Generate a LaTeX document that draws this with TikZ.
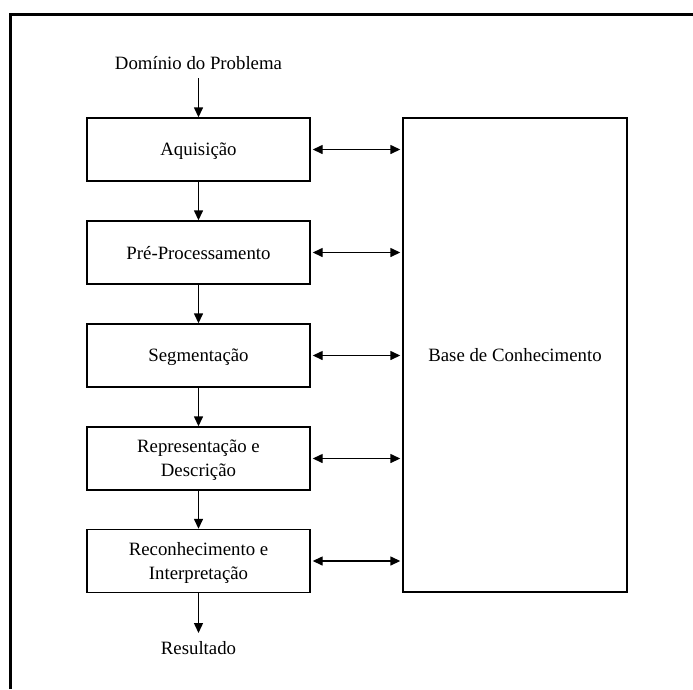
\documentclass[tikz,border=0pt]{standalone}
\usepackage{fontspec}
\setmainfont{Liberation Serif}
\usetikzlibrary{arrows.meta}
\begin{document}
\begin{tikzpicture}[x=1pt,y=-1pt,
  stage/.style={draw, line width=1.4pt, minimum width=223pt, minimum height=63pt,
    align=center, font=\fontsize{18.8}{24}\selectfont, inner sep=0pt, text depth=0pt},
  lbl/.style={font=\fontsize{18.8}{24}\selectfont, inner sep=0pt},
  flow/.style={line width=1.4pt, -{Triangle[length=10pt,width=9pt]}},
  link/.style={line width=1.4pt, {Triangle[length=10pt,width=9pt]}-{Triangle[length=10pt,width=9pt]}}]
  \useasboundingbox (0,0) rectangle (693,689);
  % outer frame (top and left edges)
  \draw[line width=2.3pt] (10.5,689) -- (10.5,14.5) -- (693,14.5);

  \node[lbl] (dom) at (198.5,63) {Domínio do Problema};
  \node[stage] (s1) at (198.5,149.5) {Aquisição};
  \node[stage] (s2) at (198.5,252.5) {Pré-Processamento};
  \node[stage] (s3) at (198.5,355.5) {Segmentação};
  \node[stage] (s4) at (198.5,458.5) {Representação e\\Descrição};
  \node[stage] (s5) at (198.5,561) {Reconhecimento e\\Interpretação};
  \node[lbl] (res) at (198.5,648) {Resultado};
  \node[draw, line width=1.4pt, minimum width=224pt, minimum height=474pt,
    font=\fontsize{18.8}{24}\selectfont, inner sep=0pt] (kb) at (515,355) {Base de Conhecimento};

  \draw[flow] (dom.south |- 0,78) -- (s1.north);
  \draw[flow] (s1) -- (s2);
  \draw[flow] (s2) -- (s3);
  \draw[flow] (s3) -- (s4);
  \draw[flow] (s4) -- (s5);
  \draw[flow] (s5) -- (res.north |- 0,633);

  \foreach \s in {s1,s2,s3,s4,s5}
    \draw[link] ([xshift=2pt]\s.east) -- ([xshift=-2pt]kb.west |- \s.east);
\end{tikzpicture}
\end{document}
